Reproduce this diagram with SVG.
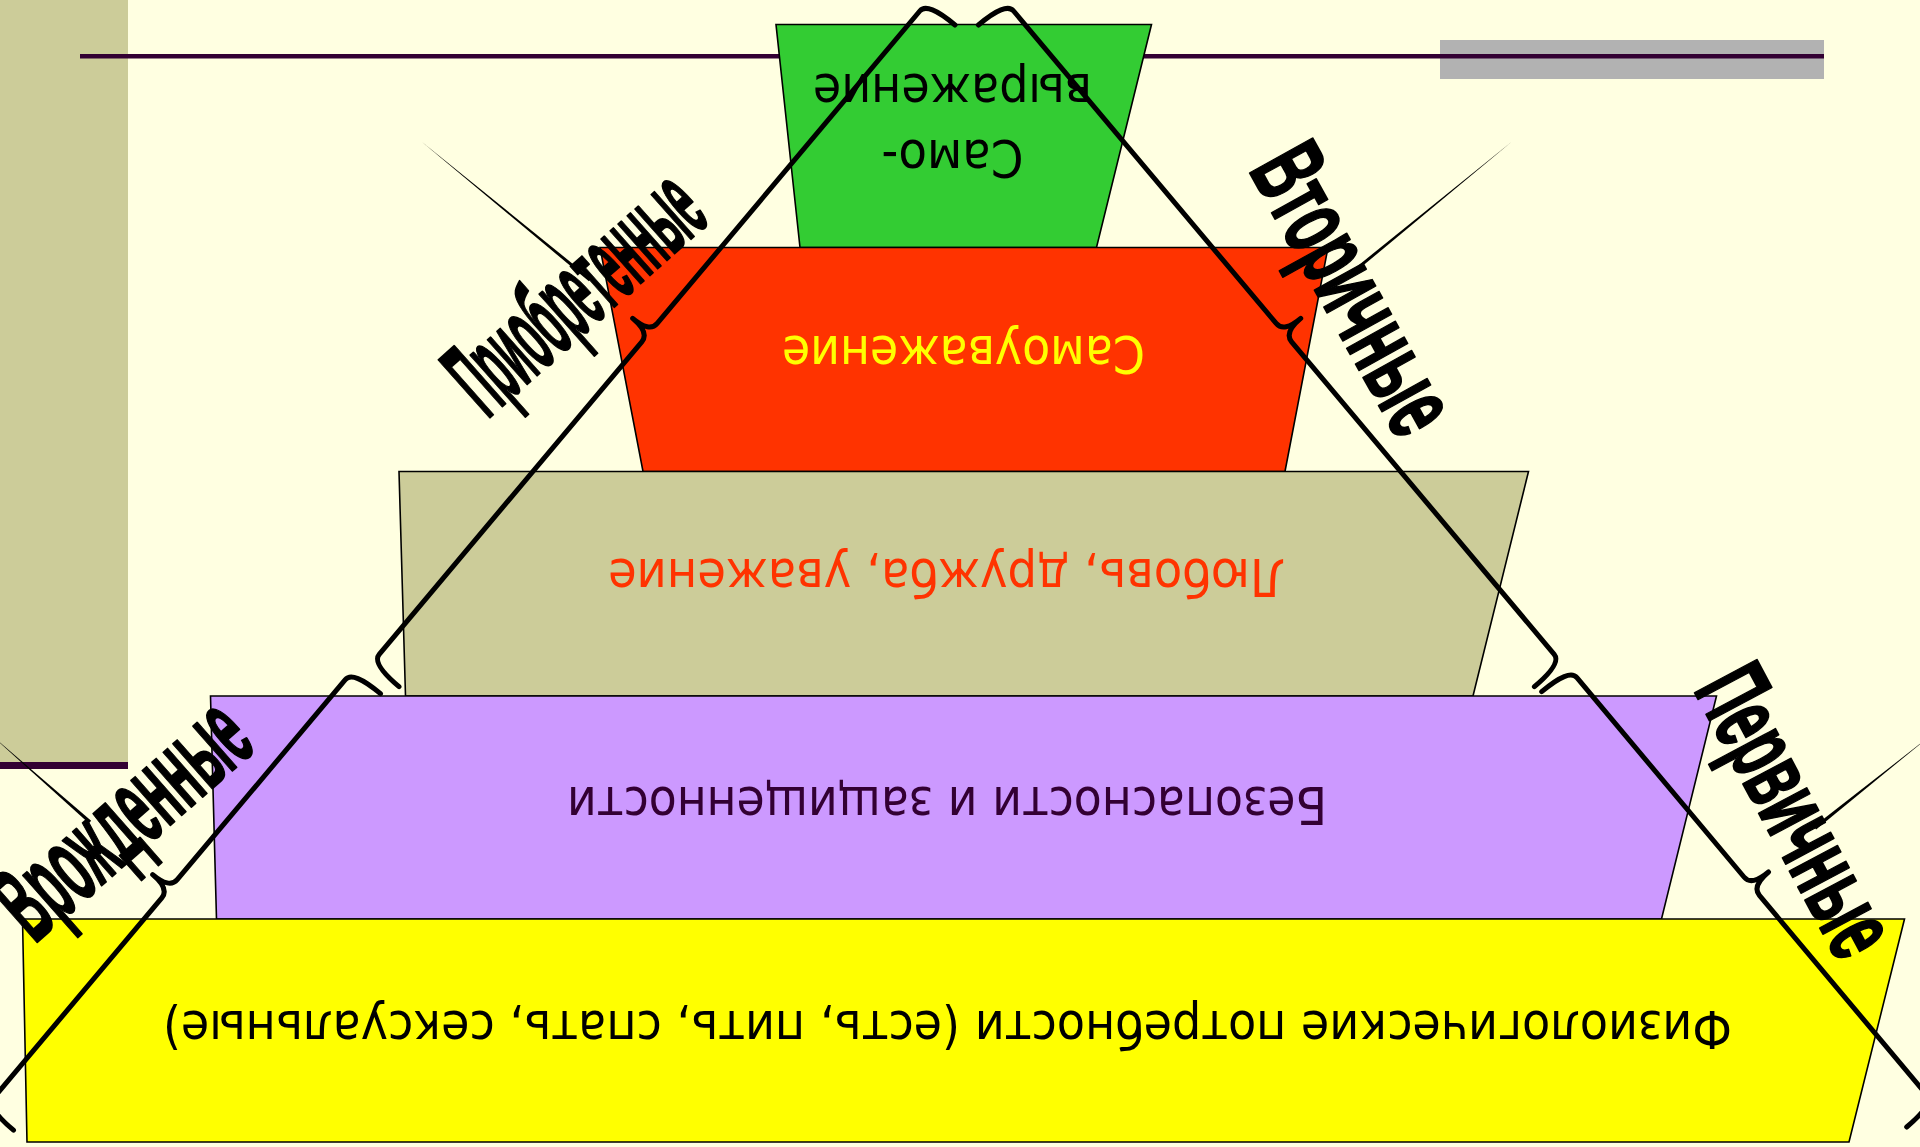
<svg xmlns="http://www.w3.org/2000/svg" width="1920" height="1147" viewBox="0 0 1920 1147">
<style>
.tr{stroke:#000;stroke-width:1.6;stroke-linejoin:miter}
.t{font-family:"DejaVu Sans",sans-serif;font-size:51px;text-anchor:middle}
.lbl{font-family:"Liberation Sans",Arial,sans-serif;font-weight:bold;text-anchor:middle;fill:#000;stroke:#000;stroke-width:2.2;stroke-linejoin:round}
.br{fill:none;stroke:#000;stroke-width:5;stroke-linecap:round;stroke-linejoin:round}
.wedge{fill:#000}
</style>
<rect x="0" y="0" width="1920" height="1147" fill="#FFFFE1"/>
<g id="decor">
<rect x="0" y="0" width="128" height="763" fill="#CCCC99"/>
<rect x="0" y="762" width="128" height="7" fill="#330033"/>
<rect x="1440" y="40" width="384" height="39" fill="#B2B2B2"/>
<rect x="80" y="54" width="1744" height="4.5" fill="#330033"/>
</g>
<g id="node-self-expression">
<polygon class="tr" fill="#33CC33" points="776,24.5 1151.5,24.5 1096.5,247.5 800,247.5"/>
<text class="t" fill="#000" transform="rotate(180 952.5 154)" x="952.5" y="168" textLength="142" lengthAdjust="spacingAndGlyphs">Само-</text>
<text class="t" fill="#000" transform="rotate(180 952.5 87.5)" x="952.5" y="101.5" textLength="279" lengthAdjust="spacingAndGlyphs">выражение</text>
</g>
<g id="node-self-esteem">
<polygon class="tr" fill="#FF3300" points="600,247.5 1328,247.5 1285,471.5 643,471.5"/>
<text class="t" fill="#FFFF00" transform="rotate(180 963.5 350)" x="963.5" y="364" textLength="363" lengthAdjust="spacingAndGlyphs">Самоуважение</text>
</g>
<g id="node-love">
<polygon class="tr" fill="#CCCC99" points="399,471.5 1528.5,471.5 1473,696 405.5,696"/>
<text class="t" fill="#FF3300" transform="rotate(180 946.5 573)" x="946.5" y="587" textLength="677" lengthAdjust="spacingAndGlyphs">Любовь, дружба, уважение</text>
</g>
<g id="node-safety">
<polygon class="tr" fill="#CC99FF" points="210.5,696 1716.5,696 1661.5,919 216.5,919"/>
<text class="t" fill="#330033" transform="rotate(180 947 800.5)" x="947" y="814.5" textLength="760" lengthAdjust="spacingAndGlyphs">Безопасности и защищенности</text>
</g>
<g id="node-physiological">
<polygon class="tr" fill="#FFFF00" points="22.5,919 1904.5,919 1849,1142 27,1142"/>
<text class="t" fill="#000" transform="rotate(180 947.5 1025)" x="947.5" y="1039" textLength="1569" lengthAdjust="spacingAndGlyphs">Физиологические потребности (есть, пить, спать, сексуальные)</text>
</g>
<g id="connectors">
<polygon class="wedge" points="421.7,141.7 588.9,281.35 591.1,278.65"/>
<polygon class="wedge" points="1511.7,141.7 1344.1,281.35 1341.9,278.65"/>
<polygon class="wedge" points="-10,734 88.85,823.3 91.15,820.7"/>
<polygon class="wedge" points="1930,736 1816.1,829.4 1813.9,826.6"/>
<path class="br" d="M955,25 Q927.5,1.8 919.8,11 L657.2,323.4 Q649.5,332.6 632.7,318.4 Q649.5,332.6 641.8,341.8 L379.2,654.3 Q371.5,663.5 399,686.7"/>
<path class="br" d="M380.5,693.7 Q353,670.5 345.3,679.7 L177.2,879.6 Q169.5,888.75 152.7,874.6 Q169.5,888.75 161.8,897.9 L-6.3,1097.8 Q-14,1107 13.5,1130.2"/>
<path class="br" d="M978.4,25 Q1005.9,1.8 1013.6,11 L1276.2,323.4 Q1283.9,332.6 1300.7,318.4 Q1283.9,332.6 1291.6,341.8 L1554.2,654.3 Q1561.9,663.5 1534.4,686.7"/>
<path class="br" d="M1541.7,691.7 Q1569.2,668.5 1576.9,677.7 L1744,877 Q1751.7,886.2 1768.5,872 Q1751.7,886.2 1759.4,895.4 L1926.5,1094.6 Q1934.2,1103.8 1906.7,1127"/>
</g>
<g id="labels">
<text id="label-acquired" class="lbl" font-size="112" transform="translate(573 290) rotate(-41.6)" x="0" y="40" textLength="300" lengthAdjust="spacingAndGlyphs">Приобретенные</text>
<text id="label-innate" class="lbl" font-size="112" transform="translate(120 816) rotate(-41.3)" x="0" y="40" textLength="298" lengthAdjust="spacingAndGlyphs">Врожденные</text>
<text id="label-secondary" class="lbl" font-size="104" transform="translate(1356 288) rotate(61)" x="0" y="37" textLength="312" lengthAdjust="spacingAndGlyphs">Вторичные</text>
<text id="label-primary" class="lbl" font-size="102" transform="translate(1798 810) rotate(62)" x="0" y="36" textLength="312" lengthAdjust="spacingAndGlyphs">Первичные</text>
</g>
</svg>
